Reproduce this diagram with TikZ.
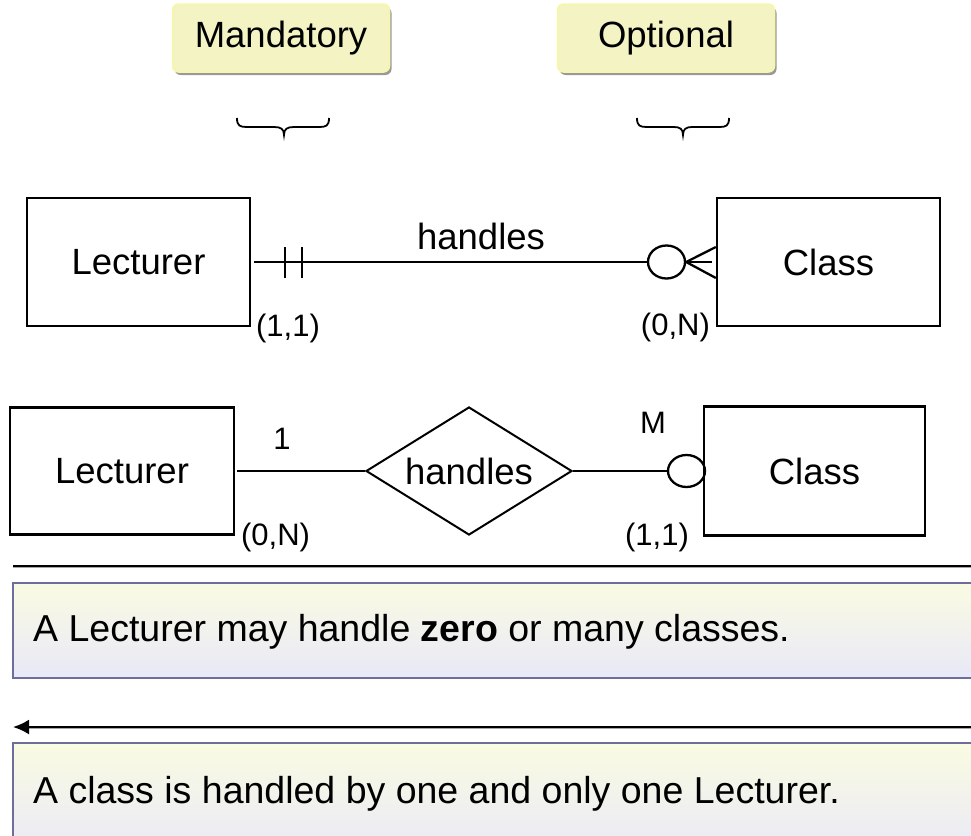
\documentclass[tikz,border=0pt]{standalone}
\usepackage{fontspec}
\setmainfont{Liberation Sans}
\usetikzlibrary{shapes.geometric,arrows.meta,shadows}
\definecolor{tagfill}{HTML}{F3F3C3}
\definecolor{tagedge}{HTML}{F7F7A8}
\definecolor{notetop}{HTML}{FAFBE2}
\definecolor{notebot}{HTML}{E8E8F8}
\definecolor{noteedge}{HTML}{6E6E9C}
\begin{document}
\begin{tikzpicture}[x=1pt,y=-1pt,
  line width=2.3pt,
  big/.style={font=\fontsize{36.5}{40}\selectfont},
  small/.style={font=\fontsize{31}{34}\selectfont, inner sep=0pt},
  tag/.style={big, draw=tagedge, line width=1.5pt, fill=tagfill, rounded corners=6pt,
    minimum width=217pt, minimum height=68pt,
    drop shadow={shadow xshift=2pt, shadow yshift=-3pt, fill=black!40, opacity=1}},
  entity/.style={big, draw, minimum width=223pt, minimum height=128pt},
  opt/.style={ellipse, draw, inner sep=0pt, minimum width=37pt, minimum height=33pt},
  rel/.style={big, diamond, draw, line width=2pt, inner sep=0pt, aspect=1.6, minimum width=206pt, minimum height=128pt},
  note/.style={draw=noteedge, line width=2pt, top color=notetop, bottom color=notebot},
  notetext/.style={font=\fontsize{37.5}{42}\selectfont, anchor=west, inner sep=0pt},
  brace/.style={line width=1.8pt},
  rule/.style={line width=2.2pt},
  ruleshade/.style={black!35, line width=1.3pt}
]
\useasboundingbox (0,0) rectangle (971,835);

% participation tags
\node[tag] (mand) at (281,38) {Mandatory};
\node[tag] (opt) at (666,38) {Optional};

% braces under the tags
\draw[brace] (237,118) .. controls (237,126) and (240,127) .. (247,127) -- (274,127)
  .. controls (281,127) and (284,129) .. (284,135) .. controls (284,129) and (287,127) .. (294,127)
  -- (319,127) .. controls (326,127) and (329,126) .. (329,118);
\draw[brace] (637,118) .. controls (637,126) and (640,127) .. (647,127) -- (674,127)
  .. controls (680,127) and (683,129) .. (683,135) .. controls (683,129) and (686,127) .. (692,127)
  -- (719,127) .. controls (726,127) and (729,126) .. (729,118);

% crow's foot notation
\node[entity] (lect1) at (138.5,262) {Lecturer};
\node[entity] (class1) at (828.5,262) {Class};
\node[opt] (o1) at (666.5,262) {};
\draw ([xshift=3pt]lect1.east) -- (o1.west);
\draw ([xshift=34pt,yshift=15pt]lect1.east) -- ([xshift=34pt,yshift=-16pt]lect1.east);
\draw ([xshift=51pt,yshift=15pt]lect1.east) -- ([xshift=51pt,yshift=-16pt]lect1.east);
\draw (o1.east) -- ([yshift=15pt]class1.west);
\draw (o1.east) -- ([xshift=-4pt]class1.west);
\draw (o1.east) -- ([yshift=-16pt]class1.west);
\node[big] (rn1) at (481,236) {handles};
\node[small, anchor=west] (c11) at (255,328) {(1,1)};
\node[small, anchor=east] (c12) at (711,327) {(0,N)};

% Chen notation
\node[entity, minimum width=224pt, minimum height=127pt] (lect2) at (122,471) {Lecturer};
\node[entity, minimum width=221pt, minimum height=129pt] (class2) at (814.5,471) {Class};
\node[rel] (rel2) at (469,471) {handles};
\node[opt, minimum height=32pt] (o2) at (686.5,471) {};
\draw ([xshift=2pt]lect2.east) -- (rel2.west);
\draw (rel2.east) -- (o2.west);
\node[small] (one) at (282,439) {1};
\node[small] (many) at (653,423) {M};
\node[small, anchor=west] (c21) at (240,537) {(0,N)};
\node[small, anchor=east] (c22) at (690,537) {(1,1)};

% reading directions
\coordinate (r1a) at (13,566);
\coordinate (r1b) at (975,566);
\draw[ruleshade] ([yshift=-1.8pt]r1a) -- ([yshift=-1.8pt]r1b);
\draw[rule] (r1a) -- (r1b);
\path[note] (13,583) rectangle (985,678);
\node[notetext] (t1) at (32,632) {A Lecturer may handle \textbf{zero} or many classes.};

\coordinate (r2a) at (975,727);
\coordinate (r2b) at (13,727);
\draw[ruleshade] ([yshift=-1.8pt]r2a) -- ([yshift=-1.8pt,xshift=15pt]r2b);
\draw[rule, -{Latex[length=16pt,width=15pt]}] (r2a) -- (r2b);
\path[note] (13,743) rectangle (985,860);
\node[notetext] (t2) at (32,794) {A class is handled by one and only one Lecturer.};
\end{tikzpicture}
\end{document}
